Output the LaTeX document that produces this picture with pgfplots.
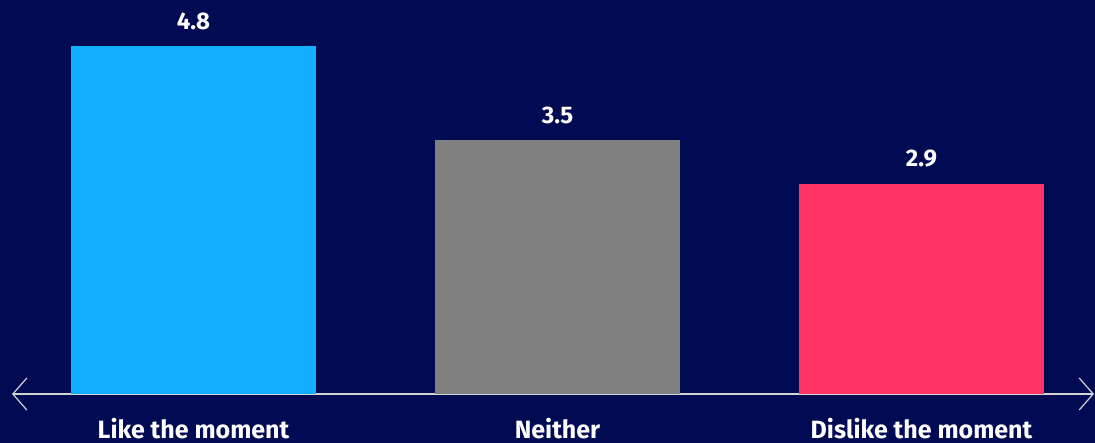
\documentclass[border=0pt]{standalone}
\usepackage{fontspec}
\setmainfont{Fira Sans}
\usepackage{pgfplots}
\pgfplotsset{compat=1.18}
\usetikzlibrary{arrows.meta}

\definecolor{bgnavy}{HTML}{010B54}
\definecolor{likecol}{HTML}{12AEFF}
\definecolor{neithercol}{HTML}{808080}
\definecolor{dislikecol}{HTML}{FF3465}
\definecolor{axiscol}{HTML}{D4D4D4}

\begin{document}
\begin{tikzpicture}
% page background and fixed page size
\useasboundingbox (0,0) rectangle (547.5pt,221.5pt);
\fill[bgnavy] (0,0) rectangle (547.5pt,221.5pt);
\begin{axis}[
  at={(6pt,24.5pt)}, anchor=south west,
  scale only axis,
  width=541pt, height=197pt,
  xmin=-0.4986, xmax=2.474,
  ymin=0, ymax=5.434,
  axis y line=none,
  axis x line*=bottom,
  x axis line style={draw=axiscol, line width=0.7pt,
    {Straight Barb[length=7pt,width=16pt,line width=0.6pt]}-{Straight Barb[length=7pt,width=16pt,line width=0.6pt]}},
  xtick={0,1,2},
  xticklabels={Like the moment,Neither,Dislike the moment},
  major tick length=0pt,
  xticklabel style={font=\bfseries\fontsize{12.5}{14}\selectfont, text=white, anchor=base, yshift=-22pt, inner sep=0pt},
  ybar, bar width=122.5pt, bar shift=0pt,
  clip=false,
  nodes near coords,
  nodes near coords style={font=\bfseries\fontsize{12}{14}\selectfont, text=white, anchor=south, inner sep=0pt, yshift=8pt,
    /pgf/number format/.cd, fixed, fixed zerofill, precision=1, assume math mode=true},
]
\addplot[fill=likecol, draw=none] coordinates {(0,4.8)};
\addplot[fill=neithercol, draw=none] coordinates {(1,3.5)};
\addplot[fill=dislikecol, draw=none] coordinates {(2,2.9)};
\end{axis}
\end{tikzpicture}
\end{document}
